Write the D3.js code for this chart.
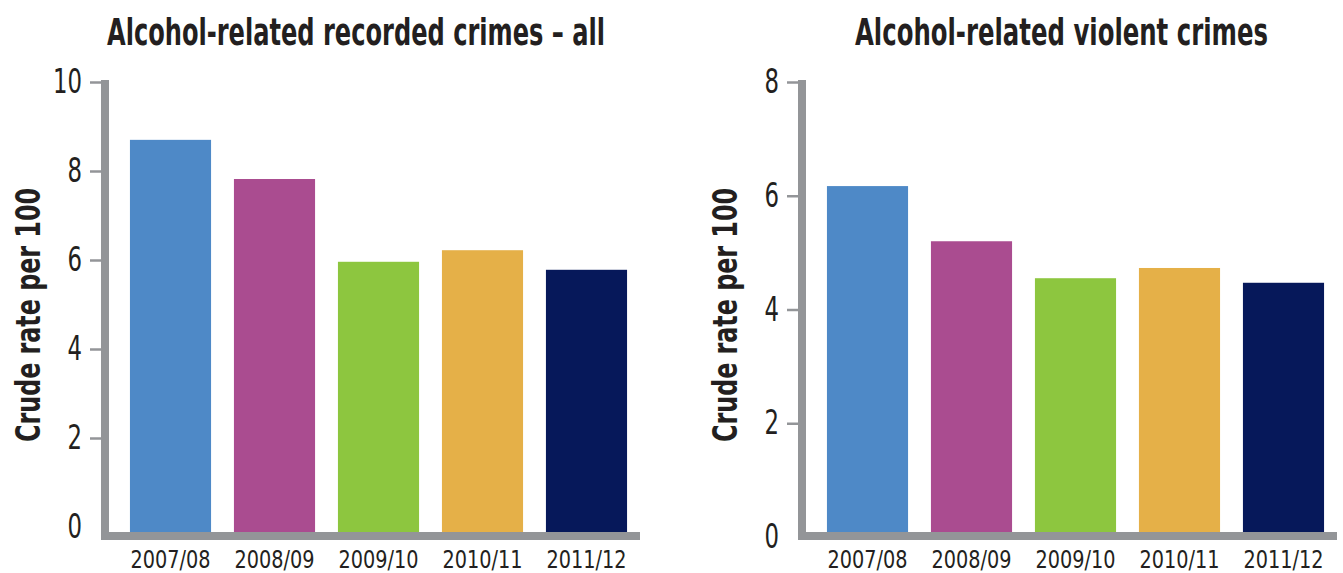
<!DOCTYPE html>
<html>
<head>
<meta charset="utf-8">
<script src="https://cdn.jsdelivr.net/npm/d3@7"></script>
<style>
  html, body { margin: 0; padding: 0; background: #ffffff; }
  svg { display: block; }
  text { font-family: "Liberation Sans Narrow", "DejaVu Sans Condensed", sans-serif; fill: #231f20; }
</style>
</head>
<body>
<svg id="chart" width="1343" height="573"></svg>
<script>
// Financial years shown on both panels
const years = ["2007/08", "2008/09", "2009/10", "2010/11", "2011/12"];
const barColors = ["#4e89c7", "#aa4c90", "#8dc63f", "#e5b048", "#06185a"];

// Crude rate per 100, all alcohol-related recorded crimes
const allCrimes = [8.70, 7.82, 5.96, 6.22, 5.78];
const allTicks = [0, 2, 4, 6, 8, 10];

// Crude rate per 100, alcohol-related violent crimes
const violentCrimes = [6.17, 5.20, 4.55, 4.73, 4.47];
const violentTicks = [0, 2, 4, 6, 8];

const axisGrey = "#939598";
const svg = d3.select("#chart");

function panel(opts) {
  const g = svg.append("g");

  const x = d3.scaleBand()
    .domain(years)
    .range(opts.xRange)
    .paddingInner(0.22)
    .paddingOuter(0.211);

  const y = d3.scaleLinear()
    .domain([0, d3.max(opts.ticks)])
    .range(opts.yRange);

  // Baseline sits on the upper edge of the thick horizontal axis
  const baseline = opts.axisY - 4;

  // Bars
  g.selectAll("rect.bar")
    .data(opts.values)
    .join("rect")
    .attr("class", "bar")
    .attr("x", (d, i) => x(years[i]))
    .attr("width", x.bandwidth())
    .attr("y", d => y(d))
    .attr("height", d => baseline - y(d))
    .attr("fill", (d, i) => barColors[i]);

  // Y axis: short ticks and condensed labels on the left
  const yAxis = d3.axisLeft(y)
    .tickValues(opts.ticks)
    .tickSize(11)
    .tickPadding(8)
    .tickFormat(d3.format("d"));

  const ya = g.append("g")
    .attr("transform", `translate(${opts.axisX - 4},0)`)
    .call(yAxis);
  ya.select(".domain").remove();
  ya.selectAll(".tick line")
    .attr("stroke", axisGrey)
    .attr("stroke-width", 2.5)
    .attr("display", d => d === 0 ? "none" : null);
  ya.selectAll(".tick text")
    .attr("font-size", 33)
    .attr("fill", "#231f20")
    .attr("textLength", d => String(d).length * 14.5)
    .attr("lengthAdjust", "spacingAndGlyphs")
    .style("font-family", '"Liberation Sans Narrow", "DejaVu Sans Condensed", sans-serif');

  // Thick L-shaped axis frame
  g.append("path")
    .attr("d", `M${opts.axisX},${y(d3.max(opts.ticks)) - 2} V${opts.axisY} H${opts.axisEnd}`)
    .attr("fill", "none")
    .attr("stroke", axisGrey)
    .attr("stroke-width", 8)
    .attr("stroke-linejoin", "miter");

  // Category labels
  g.selectAll("text.cat")
    .data(years)
    .join("text")
    .attr("class", "cat")
    .attr("x", d => x(d) + x.bandwidth() / 2)
    .attr("y", 568)
    .attr("text-anchor", "middle")
    .attr("font-size", 25)
    .attr("textLength", 80)
    .attr("lengthAdjust", "spacingAndGlyphs")
    .text(d => d);

  // Panel title
  g.append("text")
    .attr("x", opts.titleX)
    .attr("y", 45)
    .attr("font-size", 38)
    .attr("font-weight", "bold")
    .attr("textLength", opts.titleLen)
    .attr("lengthAdjust", "spacingAndGlyphs")
    .text(opts.title);

  // Y axis title
  g.append("text")
    .attr("transform", `translate(${opts.yTitleX},442) rotate(-90)`)
    .attr("font-size", 33)
    .attr("font-weight", "bold")
    .attr("textLength", 254)
    .attr("lengthAdjust", "spacingAndGlyphs")
    .text("Crude rate per 100");
}

panel({
  values: allCrimes,
  ticks: allTicks,
  xRange: [108, 649],
  yRange: [527, 82],
  axisX: 105,
  axisY: 536,
  axisEnd: 640,
  title: "Alcohol-related recorded crimes \u2013 all",
  titleX: 107,
  titleLen: 498,
  yTitleX: 40
});

panel({
  values: violentCrimes,
  ticks: violentTicks,
  xRange: [805, 1346],
  yRange: [537, 82],
  axisX: 802,
  axisY: 536,
  axisEnd: 1337,
  title: "Alcohol-related violent crimes",
  titleX: 855,
  titleLen: 413,
  yTitleX: 737
});
</script>
</body>
</html>
